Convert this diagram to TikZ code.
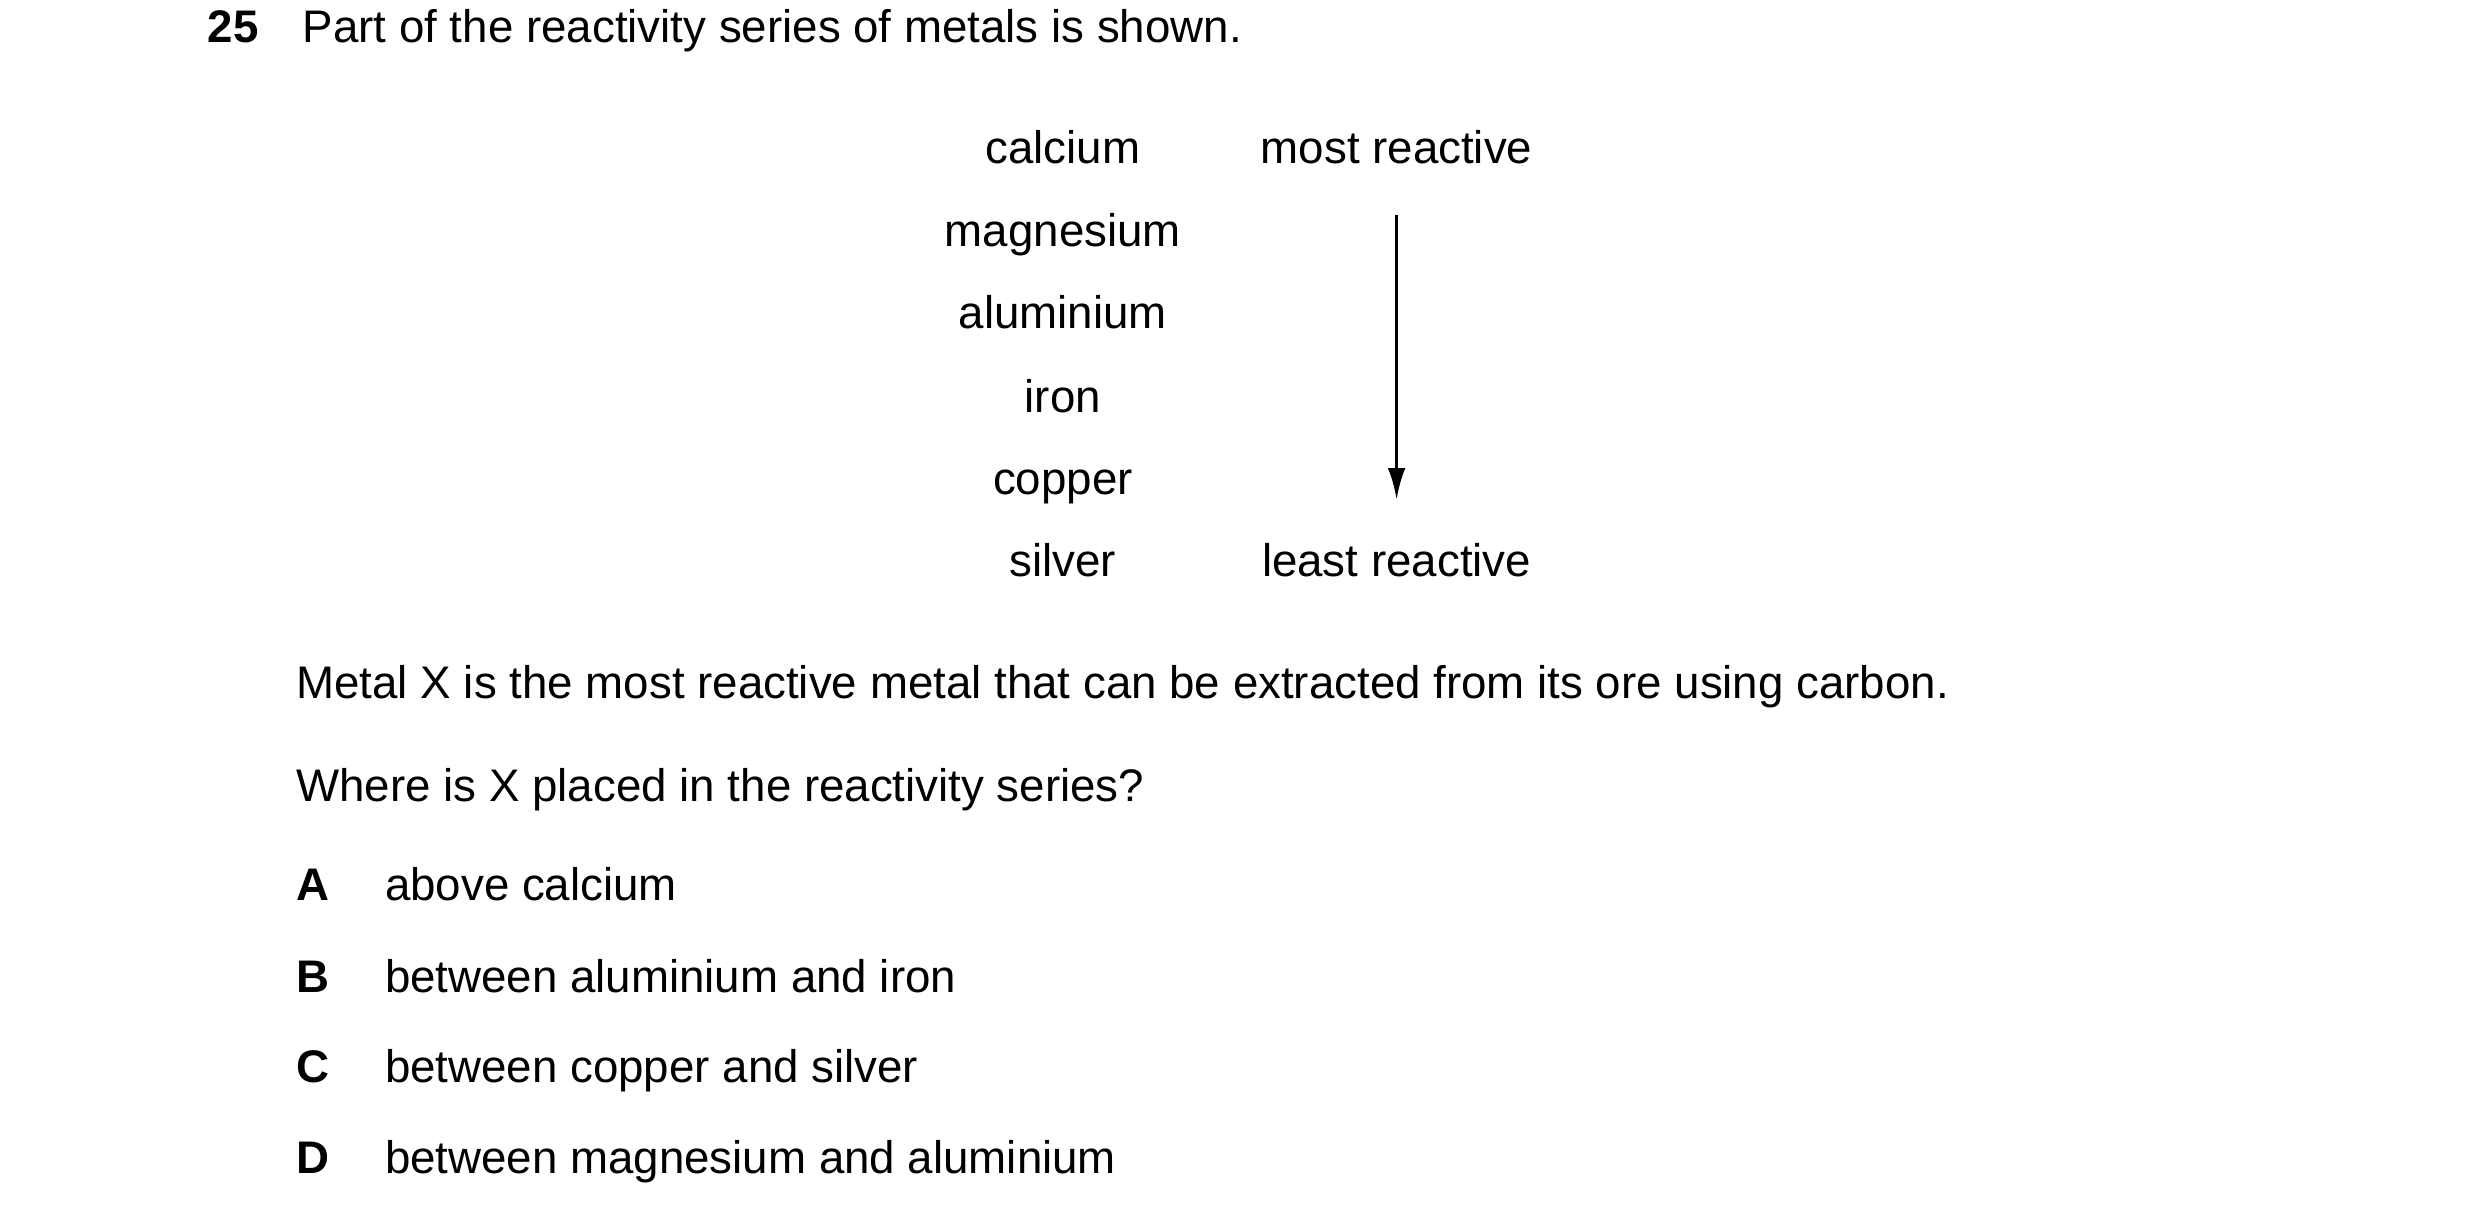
\documentclass[tikz,border=0pt]{standalone}
\usepackage{fontspec}
\setmainfont{Liberation Sans}
\usetikzlibrary{arrows.meta}
\tikzset{
  txt/.style={inner sep=0pt,text height=1.6ex,text depth=0.3ex,font=\fontsize{13}{15}\selectfont},
  lft/.style={txt,anchor=west},
  opt/.style={lft,font=\fontsize{13}{15}\selectfont\bfseries}
}
\begin{document}
\begin{tikzpicture}[x=0.015816cm,y=-0.015816cm]
\useasboundingbox (0,0) rectangle (1568,774);
% Question header
\node[opt] (num) at (131,19) {25};
\node[lft] (intro) at (191,19) {Part of the reactivity series of metals is shown.};

% Reactivity series
\foreach \m/\y in {calcium/96,magnesium/148,aluminium/200,iron/253,copper/305,silver/357}
  \node[txt] (\m) at (672,\y) {\m};
\node[txt] (most) at (883,96) {most reactive};
\node[txt] (least) at (883,357) {least reactive};
\coordinate (top) at (883,136);
\coordinate (bot) at (883,316);
\draw[line width=1pt,-{Latex[length=9pt,width=5pt]}] (top) -- (bot);

% Question text
\node[lft] (stem) at (187,434) {Metal X is the most reactive metal that can be extracted from its ore using carbon.};
\node[lft] (ask) at (187,499) {Where is X placed in the reactivity series?};

% Options
\foreach \l/\t/\y in {A/above calcium/562,B/between aluminium and iron/620,C/between copper and silver/677,D/between magnesium and aluminium/734}{
  \node[opt] (opt\l) at (187,\y) {\l};
  \node[lft] (ans\l) at (243,\y) {\t};
}
\end{tikzpicture}
\end{document}
